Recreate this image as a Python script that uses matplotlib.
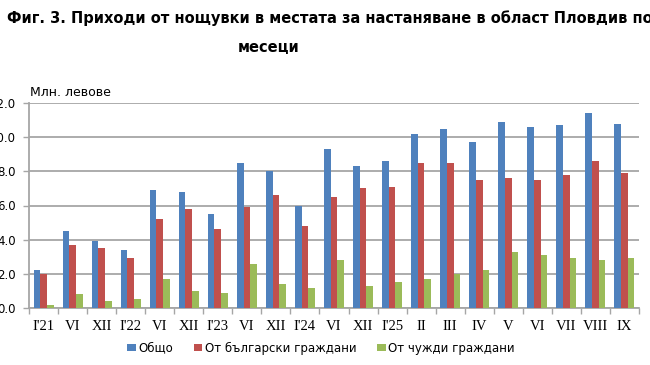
import matplotlib
matplotlib.use("Agg")
import matplotlib.pyplot as plt
import numpy as np

# categories (months)
months = ["I'21", "VI", "XII", "I'22", "VI", "XII", "I'23", "VI", "XII", "I'24", "VI",
          "XII", "I'25", "II", "III", "IV", "V", "VI", "VII", "VIII", "IX"]

# values, mln. leva
total = [2.2, 4.5, 3.9, 3.4, 6.9, 6.8, 5.5, 8.5, 8.0, 6.0, 9.3,
         8.3, 8.6, 10.2, 10.5, 9.7, 10.9, 10.6, 10.7, 11.4, 10.8]
bulgarian = [2.0, 3.7, 3.5, 2.9, 5.2, 5.8, 4.6, 5.9, 6.6, 4.8, 6.5,
             7.0, 7.1, 8.5, 8.5, 7.5, 7.6, 7.5, 7.8, 8.6, 7.9]
foreign = [0.2, 0.8, 0.4, 0.5, 1.7, 1.0, 0.9, 2.6, 1.4, 1.2, 2.8,
           1.3, 1.5, 1.7, 2.0, 2.2, 3.3, 3.1, 2.9, 2.8, 2.9]

series_names = ["Общо", "От български граждани", "От чужди граждани"]
colors = ["#4F81BD", "#C0504D", "#9BBB59"]

W, H = 650, 365
fig = plt.figure(figsize=(W / 100, H / 100), dpi=100)
ax = fig.add_axes([29 / W, 1 - 308 / H, 610 / W, 205 / H])

x = np.arange(len(months))
bw = 0.23
for i, (vals, c, name) in enumerate(zip([total, bulgarian, foreign], colors, series_names)):
    ax.bar(x + (i - 1) * bw, vals, width=bw, color=c, label=name, zorder=3)

ax.set_xlim(-0.5, len(months) - 0.5)
ax.set_ylim(0, 12)
ax.set_yticks(np.arange(0, 12.1, 2))
ax.yaxis.set_major_formatter(matplotlib.ticker.FormatStrFormatter("%.1f"))
ax.grid(axis="y", color="#a6a6a6", lw=1.3, zorder=0)
for s in ["top", "right"]:
    ax.spines[s].set_visible(False)
ax.spines["left"].set_color("#a6a6a6")
ax.spines["bottom"].set_color("#a6a6a6")
ax.spines["left"].set_linewidth(1.3)
ax.spines["bottom"].set_linewidth(1.3)

ax.tick_params(axis="y", length=4.3, width=1, color="#a6a6a6", pad=5,
               labelsize=8.5, labelfontfamily="DejaVu Sans")
ax.set_xticks(x)
ax.set_xticklabels(months, family="Liberation Serif", fontsize=10.5)
ax.tick_params(axis="x", which="major", length=0, pad=9)
ax.set_xticks(np.arange(-0.5, len(months), 1), minor=True)
ax.tick_params(axis="x", which="minor", length=4, width=1, color="#a6a6a6")

fig.text(30 / W, 1 - 92 / H, "Млн. левове", fontsize=9, va="center", ha="left",
         family="DejaVu Sans")

fig.text(7 / W, 1 - 18 / H,
         "Фиг. 3. Приходи от нощувки в местата за настаняване в област Пловдив по",
         fontsize=10.5, fontweight="bold", va="center", ha="left", family="DejaVu Sans")
fig.text(269 / W, 1 - 47 / H, "месеци", fontsize=10.5, fontweight="bold",
         va="center", ha="center", family="DejaVu Sans")

fig.legend(loc="center", bbox_to_anchor=(321 / W, 1 - 348 / H), ncol=3, frameon=False,
           prop={"family": "DejaVu Sans", "size": 8.5}, handlelength=0.75, handleheight=0.6,
           handletextpad=0.2, columnspacing=1.75, borderaxespad=0, borderpad=0)

fig.savefig("out.png", dpi=100)
